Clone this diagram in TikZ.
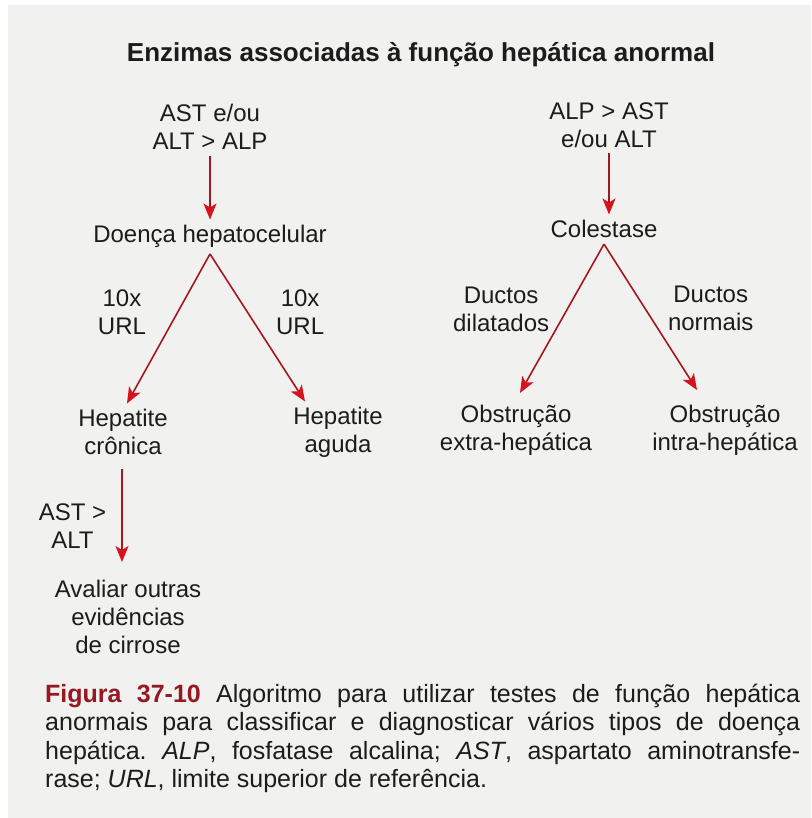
\documentclass[tikz,border=0pt]{standalone}
\usepackage{fontspec}
\setmainfont{Liberation Sans}
\usetikzlibrary{arrows.meta}
\hbadness=10000
\tolerance=10000
\frenchspacing
\definecolor{fundo}{RGB}{241,241,239}
\definecolor{linha}{RGB}{165,22,32}
\definecolor{ponta}{RGB}{214,18,28}
\definecolor{figura}{RGB}{150,24,34}
\definecolor{tinta}{RGB}{28,28,28}
\tikzset{
  txt/.style={align=center,inner sep=0pt,outer sep=6pt,text=tinta,font=\fontsize{24}{28}\selectfont},
  lab/.style={align=center,inner sep=0pt,text=tinta,font=\fontsize{24}{28}\selectfont},
  seta/.style={draw=linha,line width=1.6pt,-{Stealth[length=16pt,width=13pt,inset=4pt,color=ponta]}}
}
\begin{document}
\begin{tikzpicture}[x=1pt,y=-1pt]
\fill[white] (0,0) rectangle (811,818);
\fill[fundo] (8,5) rectangle (811,818);
\node[anchor=north,inner sep=0pt,text=tinta,font=\bfseries\fontsize{26}{30}\selectfont] (tit) at (421,42) {Enzimas associadas à função hepática anormal};
% ramo hepatocelular
\node[txt,anchor=north] (ast) at (210,98.5) {AST e/ou\\ALT > ALP};
\node[txt,anchor=north] (dh) at (210,219.5) {Doença hepatocelular};
\node[txt,anchor=north] (hc) at (123,403.5) {Hepatite\\crônica};
\node[txt,anchor=north] (ha) at (338,401.5) {Hepatite\\aguda};
\node[txt,anchor=north] (cir) at (128,574.5) {Avaliar outras\\evidências\\de cirrose};
% ramo colestase
\node[txt,anchor=north] (alp) at (609,96.5) {ALP > AST\\e/ou ALT};
\node[txt,anchor=north] (col) at (604,214.5) {Colestase};
\node[txt,anchor=north] (oe) at (516,399.5) {Obstrução\\extra-hepática};
\node[txt,anchor=north] (oi) at (725,399.5) {Obstrução\\intra-hepática};
\foreach \i/\j in {ast/dh,alp/col} {
  \draw[seta] (\i.south) -- (\i.south |- \j.north);
}
\foreach \i/\j/\dx/\dy/\t/\an/\g/\p in {dh/hc/4/0/{10x\\URL}/east/-31/.388,
    dh/ha/-33/0/{10x\\URL}/west/28/.393,
    col/oe/4/-6.5/{Ductos\\dilatados}/east/-17.5/.435,
    col/oi/-28/-9.5/{Ductos\\normais}/west/22/.443} {
  \draw[seta] (\i.south) -- node[lab,anchor=\an,xshift=\g pt,pos=\p] {\t} ([shift={(\dx,\dy)}]\j.north);
}
\draw[seta] ([shift={(-1,8)}]hc.south) -- node[lab,anchor=east,xshift=-15pt,pos=.61] {AST >\\ALT} ([shift={(-6,-12.5)}]cir.north);
\node[anchor=north west,text width=755pt,align=justify,inner sep=0pt,text=tinta,font=\fontsize{25}{28.5}\selectfont] (leg) at (45,683.5)
  {\textcolor{figura}{\bfseries Figura 37-10} Algoritmo para utilizar testes de função hepática\linebreak
   anormais para classificar e diagnosticar vários tipos de doença\linebreak
   hepática. \textit{ALP}, fosfatase alcalina; \textit{AST}, aspartato aminotransfe-\linebreak
   rase; \textit{URL}, limite superior de referência.};
\end{tikzpicture}
\end{document}
